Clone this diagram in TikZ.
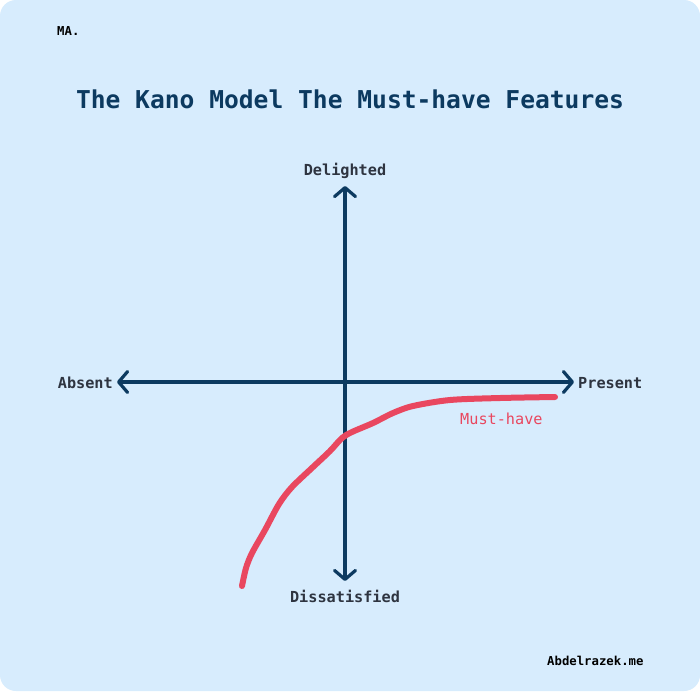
\documentclass[tikz,border=0pt]{standalone}
\usepackage{fontspec}
\setmonofont{DejaVu Sans Mono}
\usetikzlibrary{arrows.meta}
\definecolor{bgblue}{HTML}{D7ECFD}
\definecolor{navy}{HTML}{0C3A60}
\definecolor{labelgray}{HTML}{2E3440}
\definecolor{curvered}{HTML}{E9475F}
\tikzset{
  axis/.style={draw=navy, line width=3.2pt, line cap=round,
    -{Straight Barb[length=9pt,width=21pt,line width=3.2pt,round]}},
  axislabel/.style={font=\ttfamily\bfseries\fontsize{15.2}{17}\selectfont, text=labelgray, inner sep=0pt},
  curve/.style={draw=curvered, line width=6pt, line cap=round, line join=round},
}
\begin{document}
\begin{tikzpicture}[x=1pt,y=-1pt]
\useasboundingbox (0,0) rectangle (700,691);
\fill[white] (0,0) rectangle (700,691);
\fill[bgblue, rounded corners=16pt] (0,0) rectangle (700,691);
% texts
\node[font=\ttfamily\bfseries\fontsize{12.3}{14}\selectfont, text=black, anchor=west, inner sep=0pt] (ma) at (57,31) {MA.};
\node[font=\ttfamily\bfseries\fontsize{24.6}{28}\selectfont, text=navy, inner sep=0pt] (title) at (350,99) {The Kano Model The Must-have Features};
\node[axislabel] (delighted) at (345,171) {Delighted};
\node[axislabel] (dissatisfied) at (345,596) {Dissatisfied};
\node[axislabel, anchor=east] (absent) at (113,383) {Absent};
\node[axislabel, anchor=west] (present) at (578,383) {Present};
\node[font=\ttfamily\fontsize{15.2}{17}\selectfont, text=curvered, inner sep=0pt, anchor=west] (musthave) at (460,419) {Must-have};
\node[font=\ttfamily\bfseries\fontsize{12.3}{14}\selectfont, text=black, anchor=west, inner sep=0pt] (author) at (547,661) {Abdelrazek.me};
% axes
\coordinate (origin) at (345,382);
\coordinate (top) at (345,186);
\coordinate (bottom) at (345,581);
\coordinate (left) at (117,382);
\coordinate (right) at (574,382);
\draw[axis] (origin) -- (top);
\draw[axis] (origin) -- (bottom);
\draw[axis] (origin) -- (left);
\draw[axis] (origin) -- (right);
% must-have curve
\draw[curve] plot[smooth, tension=0.5] coordinates {(242,586) (246,568) (252,553) (265,530) (279,504) (292,487) (313,467) (330,451) (342,438) (352,432) (373,423) (393,413) (413,406) (450,400) (500,398) (555,397)};
\end{tikzpicture}
\end{document}
